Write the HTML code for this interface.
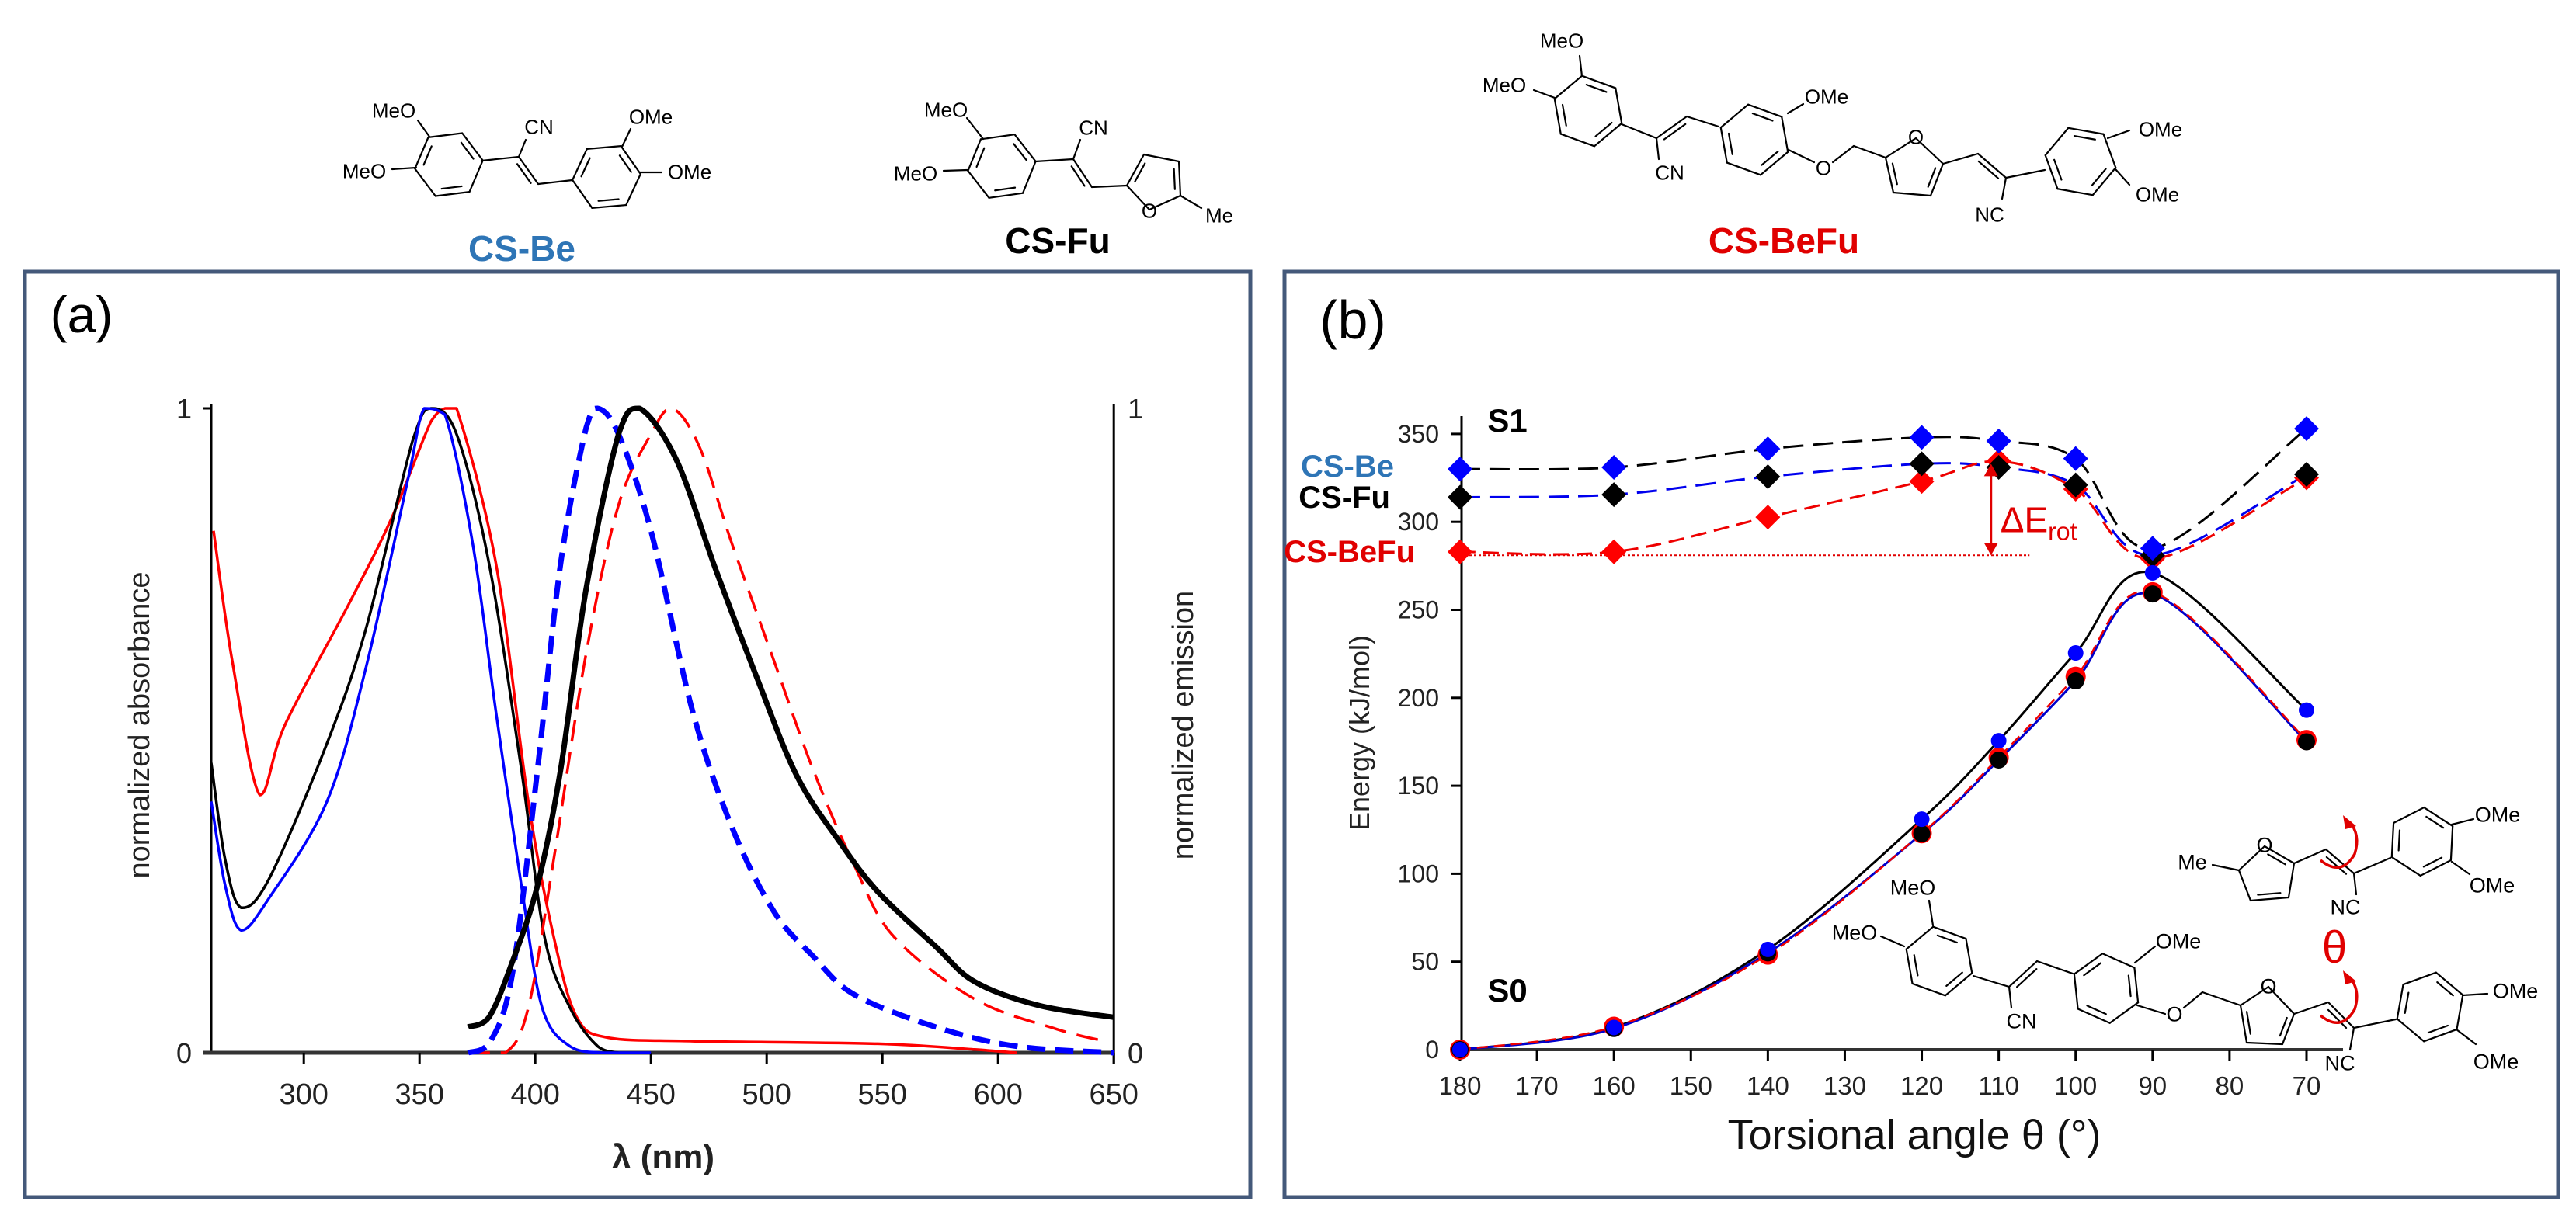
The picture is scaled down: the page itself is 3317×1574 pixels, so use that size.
<!DOCTYPE html>
<html><head><meta charset="utf-8"><title>CS-Be / CS-Fu / CS-BeFu spectra and torsional energy</title>
<style>
html,body{margin:0;padding:0;background:#fff;}
svg{display:block;}
text{font-family:"Liberation Sans",Arial,sans-serif;}
.narrow{font-family:"Liberation Sans Narrow","Liberation Sans",sans-serif;}
</style></head>
<body>
<svg id="fig" xmlns="http://www.w3.org/2000/svg" width="3317" height="1574" viewBox="0 0 3317 1574">
<rect x="0" y="0" width="3317" height="1574" fill="#fff"/>
<g id="structures"></g>
<rect x="32" y="350" width="1578" height="1192" fill="none" stroke="#44597a" stroke-width="5"/>
<rect x="1654" y="350" width="1640" height="1192" fill="none" stroke="#44597a" stroke-width="5"/>
<g id="pa"></g>
<g id="pb"></g>
</svg>
<script>
// ---------- Panel (a) data ----------
const absBeNm   = [260,266,273,285,310,327,345,352,361,373,383,394,403,415,429,450];
const absBeVal  = [0.39,0.26,0.19,0.24,0.39,0.60,0.89,1.0,0.99,0.79,0.53,0.26,0.07,0.01,0,0];
const absFuNm   = [260,266,273,285,310,327,347,355,366,380,394,404,415,427,436];
const absFuVal  = [0.45,0.30,0.225,0.27,0.48,0.66,0.95,1.0,0.96,0.76,0.44,0.18,0.07,0.01,0];
const absBeFuNm = [261,269,281,292,320,338,355,361,366,383,397,408,418,432,468,548,590,608];
const absBeFuVal= [0.81,0.61,0.40,0.51,0.70,0.83,0.98,1.0,1.0,0.76,0.39,0.18,0.055,0.023,0.018,0.014,0.005,0];
const emBeNm    = [371,380,390,401,411,422,427,436,450,468,485,503,520,538,573,608,650];
const emBeVal   = [0,0.014,0.12,0.44,0.76,0.97,1.0,0.96,0.81,0.53,0.35,0.22,0.15,0.09,0.04,0.01,0];
const emFuNm    = [371,380,390,401,411,422,436,445,461,478,496,513,531,548,573,590,618,650];
const emFuVal   = [0.04,0.055,0.14,0.26,0.44,0.72,0.96,1.0,0.92,0.75,0.58,0.43,0.33,0.25,0.165,0.11,0.073,0.055];
const emBeFuNm  = [371,387,397,408,422,436,450,459,471,485,503,520,538,555,590,625,646];
const emBeFuVal = [0,0,0.07,0.30,0.62,0.85,0.96,1.0,0.94,0.79,0.61,0.44,0.29,0.18,0.083,0.037,0.018];
const aTicks    = [300,350,400,450,500,550,600,650];

// ---------- Panel (b) data ----------
const thetas    = [180,160,140,120,110,100,90,70];
const s1Be      = [330,331,341.5,348,346,336,285,353];
const s1Fu      = [314,315.5,325.7,333,331,321,281,327];
const s1BeFu    = [283,283,302.7,323,334.5,318.6,279,325];
const s0Be      = [0,12.6,57,131,175.6,225.5,271,193];
const s0Fu      = [0,12,55,122.7,164.6,209.6,259,175];
const s0BeFu    = [0,13,54,123,166,212,260,176];
const bXTicks   = [180,170,160,150,140,130,120,110,100,90,80,70];
const bYTicks   = [0,50,100,150,200,250,300,350];
const eRotLow   = 281;
const eRotHigh  = 333;
const eRotTheta = 111;

const NS = "http://www.w3.org/2000/svg";
function mk(tag, attrs, parent){
  const e = document.createElementNS(NS, tag);
  for (const k in attrs) e.setAttribute(k, attrs[k]);
  parent.appendChild(e);
  return e;
}
function catmull(pts, clamp){
  if (pts.length < 2) return "";
  let d = "M" + pts[0][0].toFixed(1) + "," + pts[0][1].toFixed(1);
  for (let i = 0; i < pts.length - 1; i++){
    const p0 = pts[i-1] || pts[i], p1 = pts[i], p2 = pts[i+1], p3 = pts[i+2] || p2;
    const c1 = [p1[0] + (p2[0]-p0[0])/6, p1[1] + (p2[1]-p0[1])/6];
    const c2 = [p2[0] - (p3[0]-p1[0])/6, p2[1] - (p3[1]-p1[1])/6];
    if (clamp){
      const lo = Math.min(p1[1],p2[1]), hi = Math.max(p1[1],p2[1]);
      c1[1] = Math.max(lo, Math.min(hi, c1[1]));
      c2[1] = Math.max(lo, Math.min(hi, c2[1]));
    }
    d += " C" + c1[0].toFixed(1)+","+c1[1].toFixed(1)+" "+c2[0].toFixed(1)+","+c2[1].toFixed(1)+" "+p2[0].toFixed(1)+","+p2[1].toFixed(1);
  }
  return d;
}

// ================= Panel (a) =================
const pa = document.getElementById('pa');
const xA = nm => 272 + (nm - 260) * 2.98;
const yA = v => 1356 - v * 830;

let t = mk('text', {x:105, y:428, 'font-size':66, 'text-anchor':'middle', class:'narrow'}, pa);


t.textContent = "(a)";

let ax = mk('line', {x1:272, y1:520, x2:272, y2:1358, stroke:'#000', 'stroke-width':3}, pa);


ax = mk('line', {x1:xA(650), y1:520, x2:xA(650), y2:1370, stroke:'#000', 'stroke-width':3}, pa);


ax = mk('line', {x1:262, y1:1356, x2:xA(650), y2:1356, stroke:'#333', 'stroke-width':5}, pa);


let tk = mk('line', {x1:262, y1:yA(1), x2:272, y2:yA(1), stroke:'#000', 'stroke-width':3}, pa);



aTicks.forEach(v => {
  const tl = mk('line', {x1:xA(v), y1:1356, x2:xA(v), y2:1370, stroke:'#000', 'stroke-width':3}, pa);
  
  
  const tx = mk('text', {x:xA(v), y:1422, 'font-size':38, 'text-anchor':'middle', fill:'#222'}, pa);
  
  
  tx.textContent = v;
});
[[237,yA(1)+13,"1","y-left-tick-label-1"],[237,yA(0)+13,"0","y-left-tick-label-0"],[1462,yA(1)+13,"1","y-right-tick-label-1"],[1462,yA(0)+13,"0","y-right-tick-label-0"]].forEach(a => {
  const tx = mk('text', {x:a[0], y:a[1], 'font-size':36, 'text-anchor':'middle', fill:'#222'}, pa);
  
  
  tx.textContent = a[2];
});
t = mk('text', {x:0, y:0, 'font-size':38, 'text-anchor':'middle', transform:'translate(192,934) rotate(-90)', fill:'#222'}, pa);


t.textContent = "normalized absorbance";
t = mk('text', {x:0, y:0, 'font-size':38, 'text-anchor':'middle', transform:'translate(1536,934) rotate(-90)', fill:'#222'}, pa);


t.textContent = "normalized emission";
t = mk('text', {x:854, y:1505, 'font-size':44, 'font-weight':'bold', 'text-anchor':'middle', fill:'#222', class:'narrow'}, pa);


t.textContent = "λ (nm)";

function seriesA(nms, vals, color, w, dash, name){
  const pts = nms.map((n,i) => [xA(n), yA(vals[i])]);
  const p = mk('path', {d:catmull(pts, true), fill:'none', stroke:color, 'stroke-width':w, 'stroke-linejoin':'round'}, pa);
  if (dash) p.setAttribute('stroke-dasharray', dash);
  
  
}
seriesA(absBeFuNm, absBeFuVal, '#ff0000', 3.5, null, 'absorbance-cs-befu');
seriesA(absFuNm, absFuVal, '#000000', 3.5, null, 'absorbance-cs-fu');
seriesA(absBeNm, absBeVal, '#0000ff', 3.5, null, 'absorbance-cs-be');
seriesA(emBeFuNm, emBeFuVal, '#ff0000', 3.5, '28 14', 'emission-cs-befu');
seriesA(emBeNm, emBeVal, '#0000ff', 7, '24 12', 'emission-cs-be');
seriesA(emFuNm, emFuVal, '#000000', 7, null, 'emission-cs-fu');

// ================= Panel (b) =================
const pb = document.getElementById('pb');
const xB = th => 1880 + (180 - th) * 9.909;
const yB = e => 1352 - e * 2.266;

t = mk('text', {x:1742, y:436, 'font-size':70, 'text-anchor':'middle', class:'narrow'}, pb);


t.textContent = "(b)";

ax = mk('line', {x1:1882, y1:536, x2:1882, y2:1354, stroke:'#000', 'stroke-width':3}, pb);


ax = mk('line', {x1:1880, y1:1352, x2:3017, y2:1352, stroke:'#333', 'stroke-width':4}, pb);


bYTicks.forEach(v => {
  const tl = mk('line', {x1:1868, y1:yB(v), x2:1882, y2:yB(v), stroke:'#000', 'stroke-width':3}, pb);
  
  
  const tx = mk('text', {x:1853, y:yB(v)+11, 'font-size':32, 'text-anchor':'end', fill:'#222'}, pb);
  
  
  tx.textContent = v;
});
bXTicks.forEach(v => {
  const tl = mk('line', {x1:xB(v), y1:1352, x2:xB(v), y2:1366, stroke:'#000', 'stroke-width':3}, pb);
  
  
  const tx = mk('text', {x:xB(v), y:1410, 'font-size':33, 'text-anchor':'middle', fill:'#222'}, pb);
  
  
  tx.textContent = v;
});
t = mk('text', {x:0, y:0, 'font-size':36, 'text-anchor':'middle', transform:'translate(1763,944) rotate(-90)', fill:'#222'}, pb);


t.textContent = "Energy (kJ/mol)";
t = mk('text', {x:2465, y:1480, 'font-size':54, 'text-anchor':'middle', fill:'#111', class:'narrow'}, pb);


t.textContent = "Torsional angle θ (°)";

[[1941,556,"S1","s1-label"],[1941,1290,"S0","s0-label"]].forEach(a => {
  const tx = mk('text', {x:a[0], y:a[1], 'font-size':42, 'font-weight':'bold', 'text-anchor':'middle', class:'narrow'}, pb);
  
  
  tx.textContent = a[2];
});
[[1795,614,"CS-Be","#2e75b6","legend-cs-be"],[1790,654,"CS-Fu","#000","legend-cs-fu"],[1822,724,"CS-BeFu","#e00000","legend-cs-befu"]].forEach(a => {
  const tx = mk('text', {x:a[0], y:a[1], 'font-size':40, 'font-weight':'bold', 'text-anchor':'end', fill:a[3], class:'narrow'}, pb);
  
  
  tx.textContent = a[2];
});

let rl = mk('line', {x1:xB(180), y1:yB(eRotLow), x2:xB(106), y2:yB(eRotLow), stroke:'#e00000', 'stroke-width':2, 'stroke-dasharray':'3 3'}, pb);



function lineB(vals, color, w, dash, name){
  const pts = thetas.map((th,i) => [xB(th), yB(vals[i])]);
  const p = mk('path', {d:catmull(pts, false), fill:'none', stroke:color, 'stroke-width':w}, pb);
  if (dash) p.setAttribute('stroke-dasharray', dash);
  
  
}
lineB(s1Be, '#000', 3, '26 12', 's1-cs-be-line');
lineB(s1Fu, '#0000ee', 3, '26 12', 's1-cs-fu-line');
lineB(s1BeFu, '#ee0000', 3, '20 10', 's1-cs-befu-line');
lineB(s0Be, '#000', 3, null, 's0-cs-be-line');
lineB(s0Fu, '#0000cc', 3, null, 's0-cs-fu-line');
lineB(s0BeFu, '#ee0000', 2.5, '14 8', 's0-cs-befu-line');

function diamonds(vals, color, name){
  thetas.forEach((th,i) => {
    const x = xB(th), y = yB(vals[i]), s = 16;
    const d = mk('polygon', {points:`${x},${y-s} ${x+s},${y} ${x},${y+s} ${x-s},${y}`, fill:color}, pb);
    
    
  });
}
diamonds(s1BeFu, '#ff0000', 's1-cs-befu-point');
diamonds(s1Fu, '#000000', 's1-cs-fu-point');
diamonds(s1Be, '#0000ff', 's1-cs-be-point');

function circles(vals, color, r, name){
  thetas.forEach((th,i) => {
    const c = mk('circle', {cx:xB(th), cy:yB(vals[i]), r:r, fill:color}, pb);
    
    
  });
}
circles(s0BeFu, '#ff0000', 13, 's0-cs-befu-point');
circles(s0Fu, '#000000', 11, 's0-cs-fu-point');
circles(s0Be, '#0000ff', 10, 's0-cs-be-point');

const axX = xB(eRotTheta);
let ar = mk('line', {x1:axX, y1:yB(eRotLow)-14, x2:axX, y2:yB(eRotHigh)+14, stroke:'#e00000', 'stroke-width':3}, pb);


ar = mk('polygon', {points:`${axX-9},${yB(eRotHigh)+16} ${axX+9},${yB(eRotHigh)+16} ${axX},${yB(eRotHigh)}`, fill:'#e00000'}, pb);


ar = mk('polygon', {points:`${axX-9},${yB(eRotLow)-16} ${axX+9},${yB(eRotLow)-16} ${axX},${yB(eRotLow)}`, fill:'#e00000'}, pb);


t = mk('text', {x:axX+12, y:yB(eRotLow)-30, 'font-size':46, fill:'#e00000', class:'narrow'}, pb);


t.innerHTML = 'ΔE<tspan font-size="32" dy="10">rot</tspan>';

// ================= Molecule drawings =================
const S = document.getElementById('structures');
function bond(x1,y1,x2,y2,w){
  const l = mk('line', {x1:x1,y1:y1,x2:x2,y2:y2,stroke:'#000','stroke-width':w||2.2,'stroke-linecap':'round'}, S);
  
  
}
function poly(pts, dbl, w){
  const cx = pts.reduce((s,p)=>s+p[0],0)/pts.length, cy = pts.reduce((s,p)=>s+p[1],0)/pts.length;
  for (let i=0;i<pts.length;i++){
    const a = pts[i], b = pts[(i+1)%pts.length];
    bond(a[0],a[1],b[0],b[1],w);
    if (dbl.indexOf(i) >= 0){
      const f = 0.78;
      const ia = [cx+(a[0]-cx)*f, cy+(a[1]-cy)*f], ib = [cx+(b[0]-cx)*f, cy+(b[1]-cy)*f];
      const ma = [ia[0]+(ib[0]-ia[0])*0.12, ia[1]+(ib[1]-ia[1])*0.12], mb = [ia[0]+(ib[0]-ia[0])*0.88, ia[1]+(ib[1]-ia[1])*0.88];
      bond(ma[0],ma[1],mb[0],mb[1],w);
    }
  }
}
function hex(cx,cy,r,rot,dbl,w){
  const pts = [];
  for (let k=0;k<6;k++){ const a=(rot+60*k)*Math.PI/180; pts.push([cx+r*Math.cos(a), cy+r*Math.sin(a)]); }
  poly(pts, dbl, w);
  return pts;
}
function dbond(x1,y1,x2,y2,w){
  bond(x1,y1,x2,y2,w);
  const dx=x2-x1, dy=y2-y1, L=Math.hypot(dx,dy), nx=-dy/L*7, ny=dx/L*7;
  bond(x1+nx+dx*0.15,y1+ny+dy*0.15,x2+nx-dx*0.15,y2+ny-dy*0.15,w);
}
function lab(x,y,txt,size,anchor,color){
  const tx = mk('text', {x:x,y:y+size*0.36,'font-size':size,'text-anchor':anchor||'middle',fill:color||'#000',class:'narrow'}, S);
  
  
  tx.textContent = txt;
}
function big(x,y,txt,color,name){
  const tx = mk('text', {x:x,y:y+16,'font-size':46,'font-weight':'bold','text-anchor':'middle',fill:color,class:'narrow'}, S);
  
  
  tx.textContent = txt;
}
function redArc(cx,cy,name){
  const p = mk('path', {d:`M${cx-32},${cy+8} Q${cx-5},${cy+30} ${cx+12},${cy} Q${cx+20},${cy-25} ${cx+5},${cy-42}`, fill:'none', stroke:'#e00000','stroke-width':3.5}, S);
  
  
  const h = mk('polygon', {points:`${cx-3},${cy-50} ${cx+14},${cy-36} ${cx},${cy-32}`, fill:'#e00000'}, S);
  
  
}

// CS-Be
hex(578,212,44,-7,[1,3,5]);
bond(553,176,538,155); lab(507,142,"MeO",26);
bond(536,216,505,218); lab(469,220,"MeO",26);
bond(620,207,668,202); bond(668,202,677,180); lab(694,163,"CN",26);
dbond(668,202,693,237); bond(693,237,737,232);
hex(781,228,44,175,[0,2,4]);
bond(801,189,812,166); lab(838,150,"OMe",26);
bond(824,222,852,222); lab(888,221,"OMe",26);
big(672,320,"CS-Be","#2e75b6","title-cs-be");

// CS-Fu
hex(1290,214,44,-8,[1,3,5]);
bond(1266,179,1245,152); lab(1218,141,"MeO",26);
bond(1246,219,1215,220); lab(1179,223,"MeO",26);
bond(1333,208,1382,205); bond(1382,205,1391,180); lab(1408,164,"CN",26);
dbond(1382,205,1406,241); bond(1406,241,1451,239);
poly([[1451,239],[1473,199],[1518,208],[1520,252],[1480,270]],[0,2]);
bond(1520,252,1547,268); lab(1570,277,"Me",26);
lab(1480,271,"O",26);
big(1362,310,"CS-Fu","#000","title-cs-fu");

// CS-BeFu
hex(2045,143,46,-100,[0,2,4]);
bond(2037,98,2034,72); lab(2011,52,"MeO",26);
bond(2002,126,1975,116); lab(1937,109,"MeO",26);
bond(2088,160,2133,178); bond(2133,178,2136,205); lab(2150,222,"CN",26);
dbond(2133,178,2172,150); bond(2172,150,2213,163);
hex(2259,180,46,20,[0,2,4]);
bond(2302,146,2322,134); lab(2352,124,"OMe",26);
bond(2303,193,2336,209); lab(2348,216,"O",26); bond(2360,209,2387,188); bond(2387,188,2428,203);
poly([[2428,203],[2438,248],[2486,252],[2502,211],[2467,178]],[0,2]); lab(2467,176,"O",26);
bond(2502,211,2547,198); dbond(2547,198,2583,229);
bond(2583,229,2578,256); lab(2562,276,"NC",26);
bond(2583,229,2633,219);
hex(2679,208,46,190,[1,3,5]);
bond(2714,178,2742,168); lab(2782,166,"OMe",26);
bond(2724,218,2742,238); lab(2778,250,"OMe",26);
big(2297,310,"CS-BeFu","#e00000","title-cs-befu");

// Panel b inset: CS-Fu fragment
lab(2823,1110,"Me",27); bond(2849,1114,2883,1121);
poly([[2883,1121],[2898,1160],[2947,1156],[2954,1112],[2916,1090]],[1,3]); lab(2916,1088,"O",27);
bond(2954,1112,2995,1094); dbond(2995,1094,3031,1125);
bond(3031,1125,3034,1152); lab(3020,1168,"NC",27);
bond(3031,1125,3078,1105);
hex(3119,1084,44,153,[0,2,4]);
bond(3157,1062,3185,1055); lab(3216,1049,"OMe",27);
bond(3157,1110,3180,1126); lab(3209,1140,"OMe",27);
redArc(3020,1100,'rotation-arrow-top');
const th = mk('text', {x:3006, y:1240, 'font-size':58, 'text-anchor':'middle', fill:'#e00000', 'font-family':'Liberation Serif, serif'}, S);


th.textContent = "θ";

// Panel b inset: CS-BeFu
hex(2497,1238,45,-100,[0,2,4]);
bond(2489,1192,2484,1160); lab(2463,1143,"MeO",27);
bond(2452,1219,2422,1206); lab(2388,1201,"MeO",27);
bond(2541,1257,2587,1271); bond(2587,1271,2590,1298); lab(2603,1315,"CN",27);
dbond(2587,1271,2623,1238); bond(2623,1238,2669,1254);
hex(2712,1273,45,204,[0,2,4]);
bond(2749,1240,2775,1219); lab(2805,1212,"OMe",27);
bond(2752,1295,2788,1306); lab(2800,1306,"O",27); bond(2812,1298,2836,1278); bond(2836,1278,2885,1295);
poly([[2885,1295],[2893,1343],[2939,1345],[2954,1306],[2921,1271]],[0,2]); lab(2921,1270,"O",27);
bond(2954,1306,2998,1291); dbond(2998,1291,3031,1324);
bond(3031,1324,3026,1352); lab(3013,1369,"NC",27);
bond(3031,1324,3085,1313);
hex(3129,1297,45,160,[0,2,4]);
bond(3171,1282,3203,1280); lab(3239,1276,"OMe",27);
bond(3163,1326,3188,1345); lab(3214,1367,"OMe",27);
redArc(3020,1300,'rotation-arrow-bottom');
</script>
</body></html>
